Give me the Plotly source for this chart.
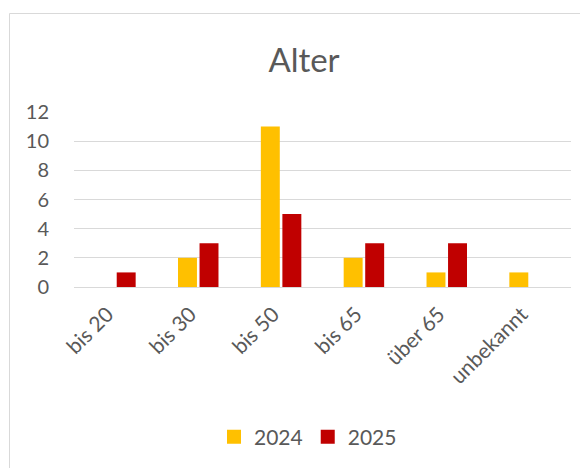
import plotly.graph_objects as go

categories = ["bis 20", "bis 30", "bis 50", "bis 65", "über 65", "unbekannt"]
values_2024 = [0, 2, 11, 2, 1, 1]
values_2025 = [1, 3, 5, 3, 3, 0]
series_names = ["2024", "2025"]
series_colors = ["#FFC000", "#C00000"]
y_ticks = [0, 2, 4, 6, 8, 10, 12]

OFF = 8  # page body margin
W, H = 580, 460
# desired plot area on screen: x 74..571, y 112..287
L = 74 - OFF
T = 112 - OFF
pw, ph = 497, 175
R = W - L - pw
B = H - T - ph

def px_x(x):
    return (x - OFF - L) / pw

def px_y(y):
    return (H - B - (y - OFF)) / ph

font_fam = "Lato, Open Sans, sans-serif"
grey = "#595959"

fig = go.Figure()
for name, vals, col in zip(series_names, [values_2024, values_2025], series_colors):
    fig.add_trace(go.Bar(x=categories, y=vals, name=name, showlegend=False,
                         legendgroup=name, marker=dict(color=col, line=dict(width=0))))
for name, col in zip(series_names, series_colors):
    fig.add_trace(go.Scatter(x=[None], y=[None], mode="markers", name=name,
                             legendgroup=name,
                             marker=dict(symbol="square", size=14, color=col)))

fig.update_layout(
    width=W, height=H,
    margin=dict(l=L, r=R, t=T, b=B, autoexpand=False),
    paper_bgcolor="white", plot_bgcolor="white",
    barmode="group", bargap=0.48, bargroupgap=0.12,
    font=dict(family=font_fam, color=grey, size=18),
    title=dict(text="Alter", x=(304 - OFF) / W, xanchor="center", y=1 - (60 - OFF) / H,
               yanchor="middle", font=dict(size=33, color=grey, family=font_fam)),
    showlegend=True,
    legend=dict(orientation="h", x=px_x(308), xanchor="center", y=px_y(437),
                yanchor="middle", font=dict(size=21, color=grey),
                itemwidth=30, traceorder="normal", bgcolor="rgba(0,0,0,0)"),
    xaxis=dict(tickangle=-45, showgrid=False, showline=False, ticks="",
               tickfont=dict(size=21, color=grey), ticklabelstandoff=10,
               ticklabelshift=-8),
    yaxis=dict(range=[0, 12], tickvals=y_ticks, showgrid=True, gridcolor="#d9d9d9",
               gridwidth=1, zeroline=True, zerolinecolor="#d9d9d9", zerolinewidth=1,
               showline=False, ticks="outside", ticklen=20, tickcolor="rgba(0,0,0,0)",
               tickfont=dict(size=20, color=grey)),
    shapes=[dict(type="rect", xref="paper", yref="paper",
                 x0=px_x(9.5), x1=px_x(700), y0=px_y(700), y1=px_y(13.5),
                 line=dict(color="#d9d9d9", width=1), fillcolor="rgba(0,0,0,0)", layer="below")],
)

fig.write_html("out.html")
